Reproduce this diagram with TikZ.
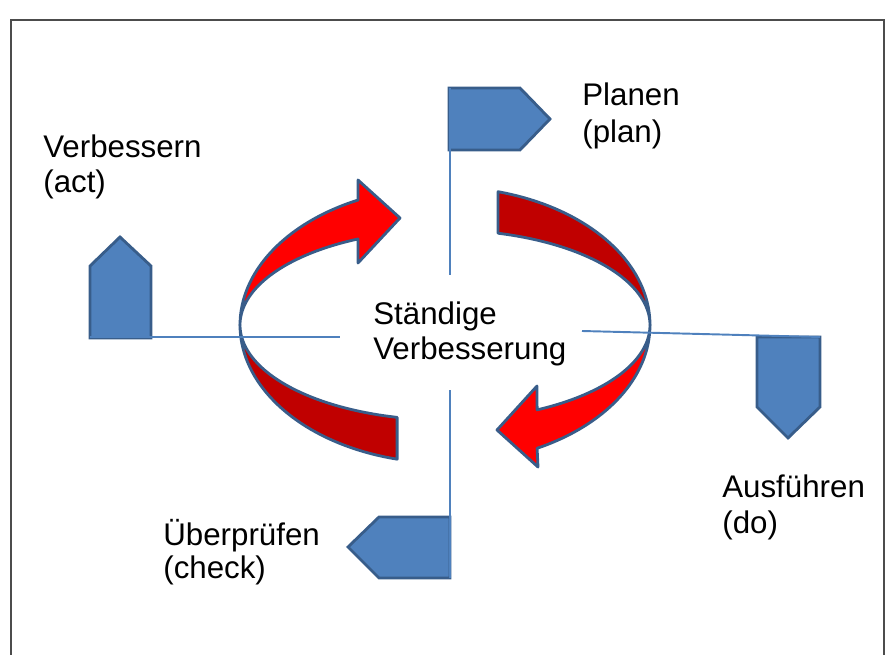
\documentclass[tikz,border=0pt]{standalone}
\usepackage{fontspec}
\setmainfont{Liberation Sans}
\definecolor{flagblue}{RGB}{79,129,189}
\definecolor{flagedge}{RGB}{56,93,138}
\definecolor{redhi}{RGB}{255,0,0}
\definecolor{reddk}{RGB}{192,0,0}

\begin{document}
\begin{tikzpicture}[x=0.02cm, y=-0.02cm,
    ribbon/.style={draw=flagedge, line width=1.6pt, line join=round},
    flagshape/.style={fill=flagblue, draw=flagedge, line width=1.6pt},
    poleline/.style={draw=flagblue, line width=1.1pt},
    lbltext/.style={anchor=base west, inner sep=0pt, font=\fontsize{17.8}{21}\selectfont}]
    \useasboundingbox (0,0) rectangle (886,655);
    % 1. Frame (open at the bottom)
    \draw[black!70, line width=1.2pt] (11,655) -- (11,20) -- (884,20) -- (884,655);
    % 2. Cycle ribbon: back parts (dark red)
    \filldraw[ribbon, fill=reddk]
        plot[domain=180:103.5, samples=40] ({445+205*cos(\x)}, {325+138*sin(\x)})
        -- plot[domain=103.5:180, samples=40] ({445+205*cos(\x)}, {325+95*sin(\x)}) -- cycle;
    \filldraw[ribbon, fill=reddk]
        plot[domain=285:360, samples=40] ({445+205*cos(\x)}, {325+138*sin(\x)})
        -- plot[domain=360:285, samples=40] ({445+205*cos(\x)}, {325+95*sin(\x)}) -- cycle;
    % 3. Cycle ribbon: front parts with arrow heads (red)
    \filldraw[ribbon, fill=redhi]
        plot[domain=180:244.9, samples=40] ({445+205*cos(\x)}, {325+138*sin(\x)})
        -- (358,180) -- (400,218) -- (358,263)
        -- plot[domain=244.9:180, samples=40] ({445+205*cos(\x)}, {325+95*sin(\x)}) -- cycle;
    \filldraw[ribbon, fill=redhi]
        plot[domain=0:63.3, samples=40] ({445+205*cos(\x)}, {325+138*sin(\x)})
        -- (538,467) -- (497,430) -- (537,386)
        -- plot[domain=63.3:0, samples=40] ({445+205*cos(\x)}, {325+95*sin(\x)}) -- cycle;
    % 4. Flags
    \filldraw[flagshape] (449,88) -- (520,88) -- (550,119) -- (520,150) -- (449,150) -- cycle;
    \filldraw[flagshape] (90,338) -- (90,266) -- (120,237) -- (151,266) -- (151,338) -- cycle;
    \filldraw[flagshape] (757,337) -- (820,337) -- (820,407) -- (788,438) -- (757,407) -- cycle;
    \filldraw[flagshape] (450,517) -- (379,517) -- (348,547) -- (379,578) -- (450,578) -- cycle;
    % 5. Flag poles
    \draw[poleline] (450,88) -- (450,275);
    \draw[poleline] (90,337) -- (340,337);
    \draw[poleline] (582,331) -- (820,337);
    \draw[poleline] (450,390) -- (450,578);
    % 6. Labels
    \node[lbltext] (center) at (373,324) {Ständige};
    \node[lbltext] (centerb) at (373,359) {Verbesserung};
    \node[lbltext] (plan) at (582,106) {Planen};
    \node[lbltext] (planb) at (582,143) {(plan)};
    \node[lbltext] (act) at (43,158) {Verbessern};
    \node[lbltext] (actb) at (43,193) {(act)};
    \node[lbltext] (do) at (722,497) {Ausführen};
    \node[lbltext] (dob) at (722,533) {(do)};
    \node[lbltext] (check) at (163,545) {Überprüfen};
    \node[lbltext] (checkb) at (163,578) {(check)};
\end{tikzpicture}
\end{document}
